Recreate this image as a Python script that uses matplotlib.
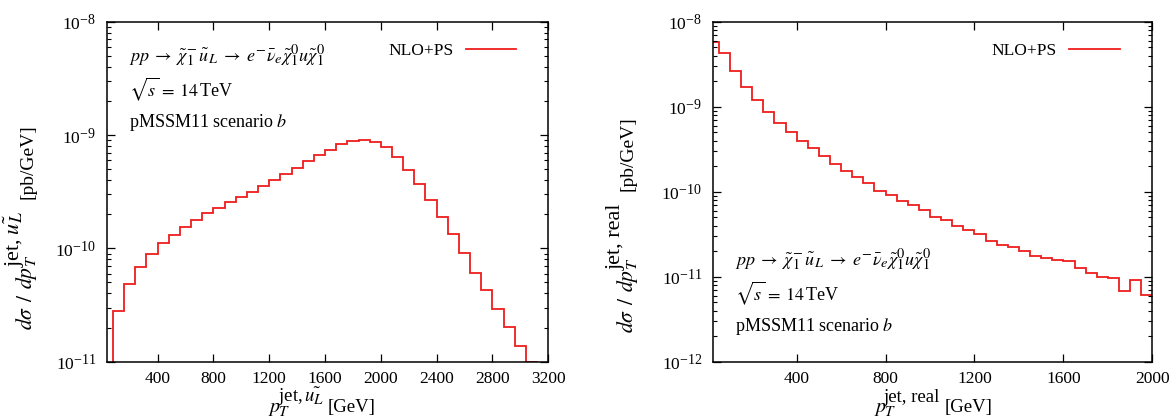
import numpy as np
import matplotlib
matplotlib.use("Agg")
import matplotlib.pyplot as plt
from matplotlib.ticker import LogLocator, FixedLocator, NullFormatter
from matplotlib.lines import Line2D

try:
    import matplotlib._mathtext as _mt
    _mt.SHRINK_FACTOR = 0.8
except Exception:
    pass

plt.rcParams['font.family'] = ['Liberation Serif', 'DejaVu Serif']
plt.rcParams['mathtext.fontset'] = 'stix'
plt.rcParams['font.size'] = 12

# ---------------- data ----------------
# left panel: p_T^{jet, u_L}, 80 GeV bins starting at 80 GeV
left_bin_start = 80
left_bin_width = 80
left_values = [2.78e-11, 4.88e-11, 6.89e-11, 8.85e-11, 1.107e-10, 1.30e-10,
               1.55e-10, 1.78e-10, 2.04e-10, 2.25e-10, 2.56e-10, 2.86e-10,
               3.16e-10, 3.55e-10, 4.01e-10, 4.53e-10, 5.15e-10, 5.86e-10,
               6.62e-10, 7.43e-10, 8.28e-10, 8.91e-10, 9.10e-10, 8.73e-10,
               7.88e-10, 6.35e-10, 4.94e-10, 3.67e-10, 2.65e-10, 1.89e-10,
               1.33e-10, 9.1e-11, 6.1e-11, 4.29e-11, 2.94e-11, 2.02e-11,
               1.38e-11, 1.0e-11]
left_xticks = [400, 800, 1200, 1600, 2000, 2400, 2800, 3200]

# right panel: p_T^{jet, real}, 50 GeV bins starting at 0
right_bin_start = 0
right_bin_width = 50
right_values = [5.71e-9, 4.32e-9, 2.61e-9, 1.69e-9, 1.19e-9, 8.66e-10,
                6.48e-10, 5.04e-10, 3.98e-10, 3.27e-10, 2.65e-10, 2.13e-10,
                1.77e-10, 1.49e-10, 1.25e-10, 1.03e-10, 9.06e-11, 7.77e-11,
                6.90e-11, 6.07e-11, 5.07e-11, 4.61e-11, 3.96e-11, 3.52e-11,
                3.20e-11, 2.66e-11, 2.36e-11, 2.21e-11, 2.00e-11, 1.77e-11,
                1.65e-11, 1.56e-11, 1.51e-11, 1.27e-11, 1.12e-11, 9.8e-12,
                9.7e-12, 6.87e-12, 9.08e-12, 6.09e-12]
right_xticks = [400, 800, 1200, 1600, 2000]

process = (r'$pp \;\to\; \tilde{\chi}_1^{-}\,\tilde{u}_L \;\to\; '
           r'e^{-}\bar{\nu}_e\tilde{\chi}_1^0 u\tilde{\chi}_1^0$')
energy = r'$\sqrt{s}\,=\,14\,$TeV'
scenario = r'pMSSM11 scenario $b$'
legend_label = 'NLO+PS'

sup_left = r'jet,$\,\tilde{u_L}$'
sup_left_y = r'jet,$\;\tilde{u_L}$'
sup_right = 'jet, real'
ylabel_base = r'$d\sigma\;\,/\;\,dp$'
xlabel_base = r'$p$'
sub_T = r'$T$'
ylabel_unit = '[pb/GeV]'
xlabel_unit = '[GeV]'

W, H = 1172, 419
fig = plt.figure(figsize=(W / 100, H / 100), dpi=100)

def px_axes(x0, x1, y0, y1):
    return fig.add_axes([x0 / W, 1 - y1 / H, (x1 - x0) / W, (y1 - y0) / H])

axL = px_axes(107.3, 548.3, 21.7, 361.7)
axR = px_axes(713.3, 1152.3, 21.7, 361.7)

red = '#ee1c1c'

def style(ax, xticks):
    ax.set_yscale('log')
    ax.xaxis.set_major_locator(FixedLocator(xticks))
    ax.yaxis.set_major_locator(LogLocator(base=10, numticks=20))
    ax.yaxis.set_minor_locator(LogLocator(base=10, subs=np.arange(2, 10), numticks=20))
    ax.yaxis.set_minor_formatter(NullFormatter())
    ax.tick_params(which='both', direction='in', top=True, right=True)
    ax.tick_params(which='major', length=6, width=0.9)
    ax.tick_params(which='minor', length=3, width=0.8)
    ax.tick_params(axis='y', which='major', pad=8, labelsize=12.5)
    ax.tick_params(axis='x', which='major', pad=7, labelsize=12.5)
    ax.tick_params(axis='x', which='minor', bottom=False, top=False)
    for s in ax.spines.values():
        s.set_linewidth(1.1)

def legend(ax, xr):
    proxy = [Line2D([], [], color=red, lw=1.3)]
    ax.legend(proxy, [legend_label], loc='center right', bbox_to_anchor=(xr, 0.915),
              frameon=False, markerfirst=False, handlelength=2.9, handletextpad=0.7,
              borderaxespad=0, borderpad=0, fontsize=12.5)

renderer = fig.canvas.get_renderer()

def compose(groups, start, base, rot, center=None):
    """groups: list of (gap_px, [(text, size, shift_px), ...]); positions in
    display pixels (origin bottom-left). rot 0: runs along +x, shift +y.
    rot 90: runs along +y, shift -x."""
    made = []
    pos = 0.0
    for gap, items in groups:
        pos += gap
        adv = 0.0
        for s, size, shift in items:
            t = fig.text(0, 0, s, fontsize=size, rotation=rot, rotation_mode='anchor',
                         ha='left', va='baseline')
            bb = t.get_window_extent(renderer)
            adv = max(adv, bb.width if rot == 0 else bb.height)
            made.append((t, pos, shift))
        pos += adv
    if center is not None:
        start = center - pos / 2
    for t, p, shift in made:
        if rot == 0:
            x, y = start + p, base + shift
        else:
            x, y = base - shift, start + p
        t.set_position((x / W, y / H))

# left
edgesL = left_bin_start + left_bin_width * np.arange(len(left_values) + 1)
axL.stairs(left_values, edgesL, baseline=1e-13, color=red, lw=1.3)
axL.set_xlim(40, 3200)
axL.set_ylim(1e-11, 1e-8)
style(axL, left_xticks)
for txt, y in ((process, 0.899), (energy, 0.802), (scenario, 0.703)):
    axL.text(0.0485, y, txt, transform=axL.transAxes, ha='left', va='center', fontsize=13)
legend(axL, 0.9268)

# right
edgesR = right_bin_start + right_bin_width * np.arange(len(right_values) + 1)
axR.stairs(right_values, edgesR, baseline=None, color=red, lw=1.3)
axR.set_xlim(25, 2000)
axR.set_ylim(1e-12, 1e-8)
style(axR, right_xticks)
for txt, y in ((process, 0.299), (energy, 0.202), (scenario, 0.103)):
    axR.text(0.0501, y, txt, transform=axR.transAxes, ha='left', va='center', fontsize=13)
legend(axR, 0.9255)

# axis labels composed like the gnuplot/LaTeX originals
compose([(0, [(ylabel_base, 15.5, 0)]),
         (-1, [(sub_T, 11.5, -4), (sup_left_y, 16, 12)]),
         (12, [(ylabel_unit, 14, 0)])],
         start=H - 330, base=32.3, rot=90)
compose([(0, [(ylabel_base, 15.5, 0)]),
         (-1, [(sub_T, 11.5, -4), (sup_right, 16, 12)]),
         (12, [(ylabel_unit, 14, 0)])],
         start=H - 333, base=632.7, rot=90)
compose([(0, [(xlabel_base, 14.5, 0)]),
         (-3, [(sub_T, 11, -4), (sup_left, 13.5, 10)]),
         (4, [(xlabel_unit, 13.5, 0)])],
         start=0, base=H - 412, rot=0, center=322)
compose([(0, [(xlabel_base, 14.5, 0)]),
         (-3, [(sub_T, 11, -4), (sup_right, 13.5, 10)]),
         (4, [(xlabel_unit, 13.5, 0)])],
         start=0, base=H - 412, rot=0, center=933)

fig.savefig('out.png', dpi=100)
